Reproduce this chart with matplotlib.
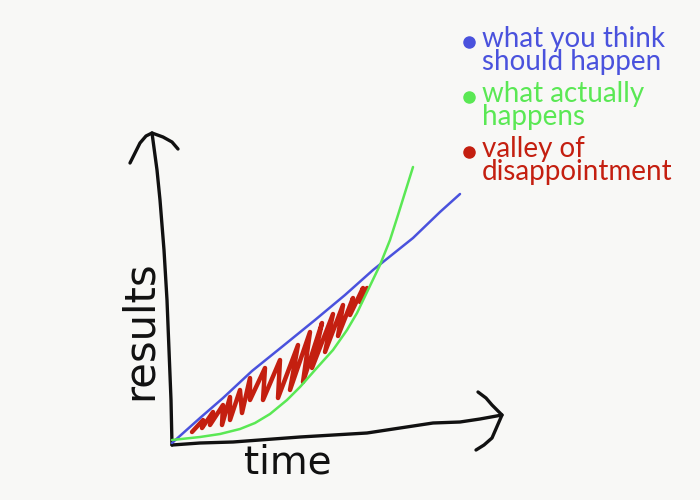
import matplotlib.pyplot as plt
import numpy as np

yaxis_x = [172, 171, 169, 167, 164, 160, 157, 152]
yaxis_y = [445, 400, 350, 300, 250, 200, 170, 133]
yhead_x = [130, 134, 140, 146, 152, 163, 172, 178]
yhead_y = [163, 155, 143, 136, 133, 137, 142, 149]

xaxis_x = [172, 200, 233, 300, 367, 400, 433, 460, 480, 502]
xaxis_y = [445, 443, 442, 437, 433, 428, 423, 422, 419, 415]
xhead_x = [478, 486, 492, 502, 492, 484, 476]
xhead_y = [392, 398, 405, 415, 438, 445, 450]

think_x = [172, 200, 223, 252, 283, 315, 345, 373, 413, 440, 460]
think_y = [443, 418, 398, 371, 346, 320, 295, 270, 238, 212, 194]

actual_x = [172, 200, 220, 240, 255, 270, 287, 300, 315, 333, 347, 357, 368, 380,
            390, 398, 413]
actual_y = [440, 437, 434, 429, 423, 414, 400, 387, 370, 350, 330, 313, 290, 265,
            240, 215, 167]

valley_x = [192, 203, 202, 213, 210, 223, 222, 230, 230, 240, 242, 250, 250, 265,
            263, 280, 278, 298, 290, 310, 303, 322, 312, 333, 325, 343, 338, 353,
            350, 363, 360, 367]
valley_y = [432, 420, 428, 412, 425, 405, 425, 397, 420, 390, 413, 378, 400, 368,
            400, 360, 398, 345, 390, 332, 382, 323, 368, 314, 352, 305, 336, 298,
            315, 288, 302, 288]

legend_labels = ['what you think\nshould happen', 'what actually\nhappens',
                 'valley of\ndisappointment']
legend_colors = ['#4a52dd', '#5ae854', '#c41f10']
legend_y = [42, 97, 152]

fig = plt.figure(figsize=(7, 5), dpi=100)
fig.patch.set_facecolor('#f8f8f6')
ax = fig.add_axes([0, 0, 1, 1])
ax.set_xlim(0, 700)
ax.set_ylim(500, 0)
ax.axis('off')

ink = dict(color='#111111', lw=2.4, solid_capstyle='round', solid_joinstyle='round')
ax.plot(yaxis_x, yaxis_y, **ink)
ax.plot(yhead_x, yhead_y, **ink)
ax.plot(xaxis_x, xaxis_y, **ink)
ax.plot(xhead_x, xhead_y, **ink)

ax.plot(valley_x, valley_y, color=legend_colors[2], lw=3.2,
        solid_capstyle='round', solid_joinstyle='round')
ax.plot(think_x, think_y, color=legend_colors[0], lw=1.8, solid_capstyle='round')
ax.plot(actual_x, actual_y, color=legend_colors[1], lw=1.8, solid_capstyle='round')

ax.text(288, 462, 'time', fontsize=28, family='DejaVu Sans', color='#111111',
        ha='center', va='center')
ax.text(140, 330, 'results', fontsize=30, family='DejaVu Sans', color='#111111',
        rotation=90, ha='center', va='center')

for lab, col, y in zip(legend_labels, legend_colors, legend_y):
    ax.plot([469], [y], 'o', color=col, ms=8)
    ax.text(482, y - 16, lab, fontsize=20, family='Lato', color=col,
            ha='left', va='top', linespacing=0.85)

fig.savefig('out.png', dpi=100, facecolor=fig.get_facecolor())
